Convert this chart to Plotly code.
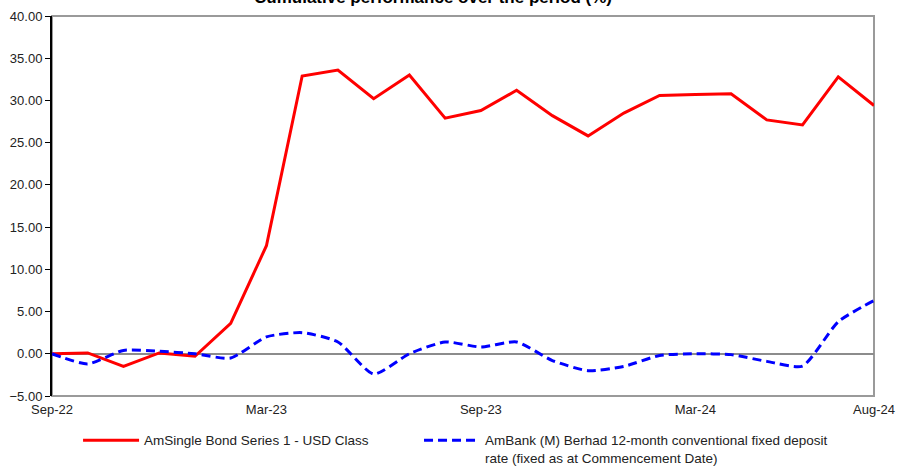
import plotly.graph_objects as go

months = ["Sep-22", "Oct-22", "Nov-22", "Dec-22", "Jan-23", "Feb-23", "Mar-23", "Apr-23",
          "May-23", "Jun-23", "Jul-23", "Aug-23", "Sep-23", "Oct-23", "Nov-23", "Dec-23",
          "Jan-24", "Feb-24", "Mar-24", "Apr-24", "May-24", "Jun-24", "Jul-24", "Aug-24"]

fund = [0.0, 0.1, -1.5, 0.1, -0.3, 3.6, 12.8, 32.9, 33.6, 30.2, 33.0, 27.9,
        28.8, 31.2, 28.2, 25.8, 28.5, 30.6, 30.7, 30.8, 27.7, 27.1, 32.8, 29.4]

benchmark = [0.0, -1.2, 0.4, 0.3, 0.0, -0.5, 2.0, 2.5, 1.4, -2.4, 0.0, 1.4,
             0.8, 1.4, -0.8, -2.0, -1.5, -0.2, 0.0, -0.1, -0.9, -1.45, 3.8, 6.3]

tick_labels = ["Sep-22", "Mar-23", "Sep-23", "Mar-24", "Aug-24"]
y_ticks = [-5, 0, 5, 10, 15, 20, 25, 30, 35, 40]

fund_name = "AmSingle Bond Series 1 - USD Class"
bench_name = "AmBank (M) Berhad 12-month conventional fixed deposit<br>rate (fixed as at Commencement Date)"
title = "Cumulative performance over the period (%)"

FONT = "Liberation Sans, Arial, sans-serif"
TXT = "#222222"

fig = go.Figure()
fig.add_trace(go.Scatter(x=months, y=fund, mode="lines", name=fund_name,
                         line=dict(color="#FF0000", width=3), legend="legend"))
fig.add_trace(go.Scatter(x=months, y=benchmark, mode="lines", name=bench_name,
                         line=dict(color="#0000FF", width=3, dash="9px,5px",
                                   shape="spline", smoothing=0.6), legend="legend2"))

leg_common = dict(orientation="h", xanchor="left", yanchor="top", y=-0.076,
                  itemwidth=56, valign="top",
                  font=dict(family=FONT, size=13.5, color=TXT),
                  bgcolor="rgba(0,0,0,0)")

fig.update_layout(
    width=899, height=466,
    margin=dict(l=52, r=25, t=16, b=70, autoexpand=False),
    paper_bgcolor="white", plot_bgcolor="white",
    font=dict(family=FONT, size=13, color=TXT),
    showlegend=True,
    legend=dict(x=0.0317, **leg_common),
    legend2=dict(x=0.4465, **leg_common),
    xaxis=dict(type="category", range=[0, len(months) - 1],
               tickmode="array", tickvals=tick_labels, ticktext=tick_labels,
               showgrid=False, zeroline=False, showline=False, ticks="",
               ticklabelstandoff=4,
               tickfont=dict(family=FONT, size=13, color=TXT)),
    yaxis=dict(range=[-5, 40], tickmode="array", tickvals=y_ticks,
               tickformat=".2f", showgrid=False,
               zeroline=True, zerolinecolor="#8c8c8c", zerolinewidth=2,
               showline=True, linecolor="#000000", linewidth=2,
               ticks="outside", ticklen=5, tickcolor="#000000", tickwidth=1,
               tickfont=dict(family=FONT, size=13, color=TXT)),
    shapes=[dict(type="rect", xref="paper", yref="paper", x0=0, x1=1, y0=0, y1=1,
                 line=dict(color="#9a9a9a", width=2), layer="below")],
    annotations=[dict(text="<b>" + title + "</b>", xref="paper", yref="paper",
                      x=0.4635, y=1.0487, xanchor="center", yanchor="middle",
                      showarrow=False, font=dict(family=FONT, size=17, color="#000000"))],
)

# remove the default 8px page margin so the figure sits at the window's top-left corner
fig.write_html("out.html", config={"displayModeBar": False},
               post_script="document.body.style.margin='0';")
